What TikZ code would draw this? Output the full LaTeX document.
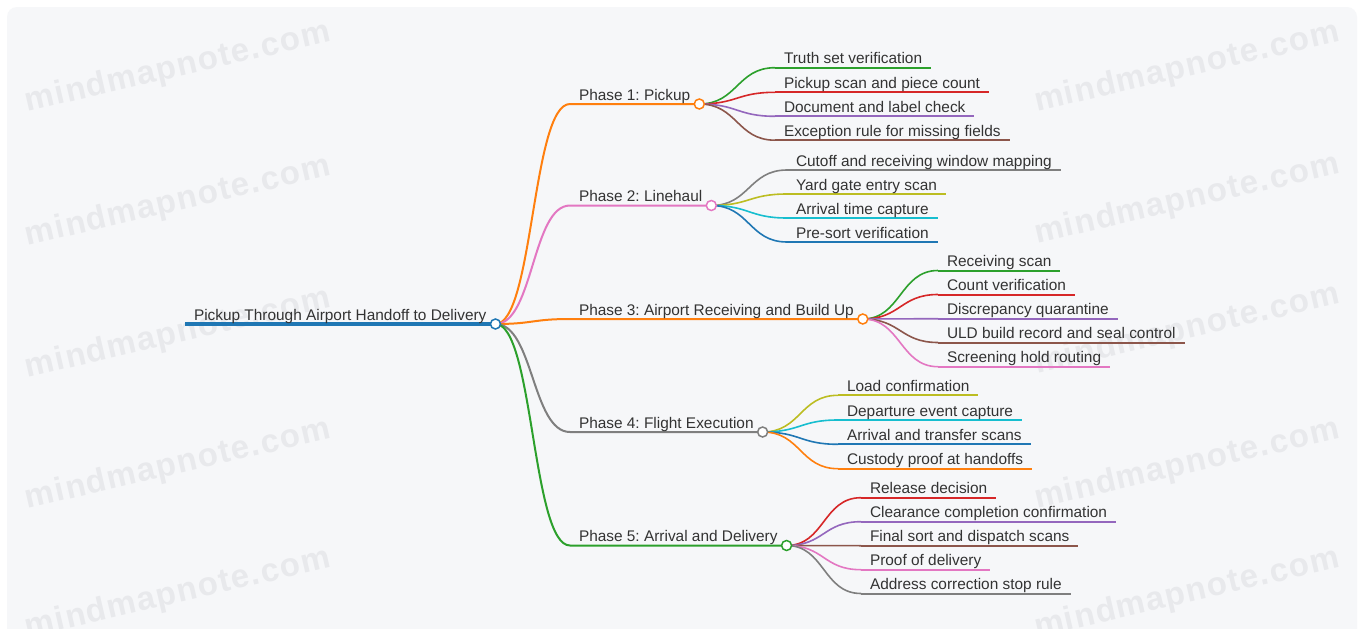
\documentclass[tikz,border=0pt]{standalone}
\usepackage{fontspec}
\setmainfont{Liberation Sans}
\newfontfamily\wmfont[LetterSpace=4]{Liberation Sans}
\frenchspacing
\definecolor{cOrange}{HTML}{FF7F0E}
\definecolor{cPink}{HTML}{E377C2}
\definecolor{cGray}{HTML}{7F7F7F}
\definecolor{cGreen}{HTML}{2CA02C}
\definecolor{cRed}{HTML}{D62728}
\definecolor{cPurple}{HTML}{9467BD}
\definecolor{cBrown}{HTML}{8C564B}
\definecolor{cOlive}{HTML}{BCBD22}
\definecolor{cCyan}{HTML}{17BECF}
\definecolor{cBlue}{HTML}{1F77B4}
\definecolor{txt}{HTML}{333333}
\definecolor{bgc}{HTML}{F6F7F9}
\definecolor{wmc}{HTML}{E8E9EC}
\pgfdeclarelayer{back}
\pgfdeclarelayer{lines}
\pgfsetlayers{back,lines,main}
\tikzset{
  lbl/.style={anchor=south west, inner xsep=9pt, inner ysep=4pt, text depth=0pt,
    outer sep=0pt, text=txt, font=\fontsize{15.4}{18}\selectfont},
  dot/.style={circle, draw=#1, fill=white, line width=1.5pt, minimum size=10pt,
    inner sep=0pt, outer sep=0pt},
  rootline/.style={line width=3.2pt, cBlue},
  plink/.style={line width=2pt, #1},
  llink/.style={line width=1.6pt, #1},
  wm/.style={rotate=13, text=wmc, font=\wmfont\bfseries\fontsize{33}{33}\selectfont}
}
\begin{document}
\begin{tikzpicture}[x=1pt,y=-1pt]
\useasboundingbox (0,0) rectangle (1361,629);
\begin{pgfonlayer}{back}
\fill[white] (0,0) rectangle (1361,629);
\fill[bgc, rounded corners=10pt] (7,7) rectangle (1357,650);
\node[wm] (w1) at (178,68) {mindmapnote.com};
\node[wm] (w2) at (178,202) {mindmapnote.com};
\node[wm] (w3) at (178,334) {mindmapnote.com};
\node[wm] (w4) at (178,465) {mindmapnote.com};
\node[wm] (w5) at (178,594) {mindmapnote.com};
\node[wm] (w6) at (1187,68) {mindmapnote.com};
\node[wm] (w7) at (1187,200) {mindmapnote.com};
\node[wm] (w8) at (1187,330) {mindmapnote.com};
\node[wm] (w9) at (1187,465) {mindmapnote.com};
\node[wm] (w10) at (1187,594) {mindmapnote.com};
\end{pgfonlayer}

% root
\node[lbl] (r) at (185,324) {Pickup Through Airport Handoff to Delivery};
% phases
\node[lbl] (p1) at (570,104) {Phase 1: Pickup};
\node[lbl] (p2) at (570,205.5) {Phase 2: Linehaul};
\node[lbl] (p3) at (570,319) {Phase 3: Airport Receiving and Build Up};
\node[lbl] (p4) at (570,432) {Phase 4: Flight Execution};
\node[lbl] (p5) at (570,545.5) {Phase 5: Arrival and Delivery};
% circles
\node[dot=cBlue] (c0) at (r.south east) {};
\node[dot=cOrange] (c1) at (p1.south east) {};
\node[dot=cPink] (c2) at (p2.south east) {};
\node[dot=cOrange] (c3) at (p3.south east) {};
\node[dot=cGray] (c4) at (p4.south east) {};
\node[dot=cGreen] (c5) at (p5.south east) {};
% leaves phase 1
\node[lbl] (a1) at (775,67.7) {Truth set verification};
\node[lbl] (a2) at (775,92.3) {Pickup scan and piece count};
\node[lbl] (a3) at (775,116.3) {Document and label check};
\node[lbl] (a4) at (775,140.2) {Exception rule for missing fields};
% leaves phase 2
\node[lbl] (b1) at (787,170) {Cutoff and receiving window mapping};
\node[lbl] (b2) at (787,194) {Yard gate entry scan};
\node[lbl] (b3) at (787,218) {Arrival time capture};
\node[lbl] (b4) at (787,242) {Pre-sort verification};
% leaves phase 3
\node[lbl] (d1) at (938,270.5) {Receiving scan};
\node[lbl] (d2) at (938,294.5) {Count verification};
\node[lbl] (d3) at (938,318.7) {Discrepancy quarantine};
\node[lbl] (d4) at (938,342.5) {ULD build record and seal control};
\node[lbl] (d5) at (938,366.7) {Screening hold routing};
% leaves phase 4
\node[lbl] (e1) at (838,395.3) {Load confirmation};
\node[lbl] (e2) at (838,420) {Departure event capture};
\node[lbl] (e3) at (838,444.3) {Arrival and transfer scans};
\node[lbl] (e4) at (838,468.7) {Custody proof at handoffs};
% leaves phase 5
\node[lbl] (f1) at (861,497.7) {Release decision};
\node[lbl] (f2) at (861,521.7) {Clearance completion confirmation};
\node[lbl] (f3) at (861,545.7) {Final sort and dispatch scans};
\node[lbl] (f4) at (861,569.7) {Proof of delivery};
\node[lbl] (f5) at (861,593.5) {Address correction stop rule};

\begin{pgfonlayer}{lines}
\draw[rootline] (r.south west) -- (c0.center);
% root to phases
\foreach \p/\c/\col in {p1/c1/cOrange, p2/c2/cPink, p3/c3/cOrange, p4/c4/cGray, p5/c5/cGreen}{
  \draw[plink=\col] (c0.center) .. controls +(38,0) and +(-38,0) .. (\p.south west) -- (\c.center);
}
% phase to leaves
\foreach \l/\c/\col in {a1/c1/cGreen, a2/c1/cRed, a3/c1/cPurple, a4/c1/cBrown,
  b1/c2/cGray, b2/c2/cOlive, b3/c2/cCyan, b4/c2/cBlue,
  d1/c3/cGreen, d2/c3/cRed, d3/c3/cPurple, d4/c3/cBrown, d5/c3/cPink,
  e1/c4/cOlive, e2/c4/cCyan, e3/c4/cBlue, e4/c4/cOrange,
  f1/c5/cRed, f2/c5/cPurple, f3/c5/cBrown, f4/c5/cPink, f5/c5/cGray}{
  \draw[llink=\col] (\c.center) .. controls +(38,0) and +(-38,0) .. (\l.south west);
  \draw[plink=\col] (\l.south west) -- (\l.south east);
}
\end{pgfonlayer}
\end{tikzpicture}
\end{document}
